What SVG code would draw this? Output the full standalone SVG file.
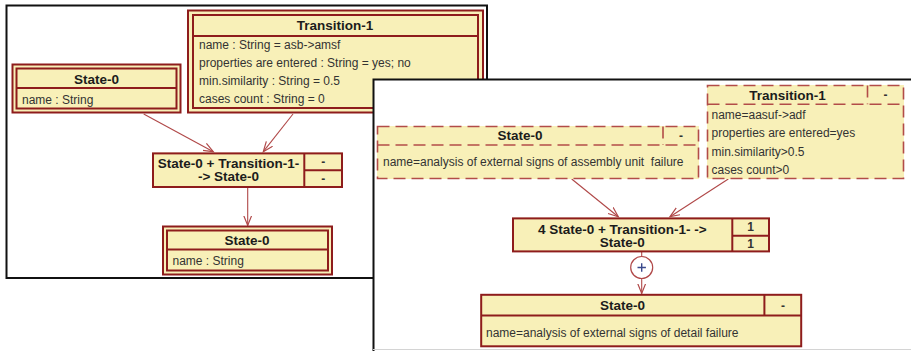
<svg xmlns="http://www.w3.org/2000/svg" width="911" height="351" viewBox="0 0 911 351">
  <style>
    .frame { fill: #ffffff; stroke: #111111; stroke-width: 2; }
    .box { fill: #f8f0b8; }
    .solid { fill: none; stroke: #8e1c1c; stroke-width: 2; }
    .dashed { fill: none; stroke: #b24c48; stroke-width: 1.6; stroke-dasharray: 12 6; }
    .title { font-family: "Liberation Sans", Arial, sans-serif; font-size: 13.5px; font-weight: bold; fill: #1c1c1c; text-anchor: middle; }
    .attr { font-family: "Liberation Sans", Arial, sans-serif; font-size: 12px; fill: #333333; }
    .mark { font-family: "Liberation Sans", Arial, sans-serif; font-size: 12px; font-weight: bold; fill: #333333; text-anchor: middle; }
    .link { fill: none; stroke: #b04848; stroke-width: 1.1; }
  </style>
  <defs>
    <marker id="open-arrow" markerUnits="userSpaceOnUse" markerWidth="12" markerHeight="10" refX="10" refY="4.5" orient="auto">
      <path d="M0,0.5 L10,4.5 L0,8.5" fill="none" stroke="#b04848" stroke-width="1.2"/>
    </marker>
  </defs>

  <!-- left sheet -->
  <rect class="frame" x="6.5" y="5.5" width="480.5" height="272.5"/>

  <g id="left-connectors">
    <line class="link" x1="143.7" y1="114" x2="213.3" y2="151.7" marker-end="url(#open-arrow)"/>
    <line class="link" x1="293" y1="114" x2="263.3" y2="151.7" marker-end="url(#open-arrow)"/>
    <line class="link" x1="247.7" y1="188" x2="247.7" y2="225.5" marker-end="url(#open-arrow)"/>
  </g>

  <g id="left-state0-source">
    <rect class="box" x="12" y="64" width="169" height="49"/>
    <rect class="solid" x="12.5" y="64.5" width="168" height="48"/>
    <rect class="solid" x="16.5" y="68.5" width="160" height="40"/>
    <line class="solid" x1="16.5" y1="88" x2="176.5" y2="88"/>
    <text class="title" x="96.5" y="83.5">State-0</text>
    <text class="attr" x="22" y="103.5">name : String</text>
  </g>

  <g id="left-transition1">
    <rect class="box" x="187.5" y="10" width="296" height="103"/>
    <rect class="solid" x="188" y="10.5" width="295" height="102"/>
    <rect class="solid" x="193" y="15" width="285" height="93"/>
    <line class="solid" x1="193" y1="36" x2="478" y2="36"/>
    <text class="title" x="335" y="29.5">Transition-1</text>
    <text class="attr" x="199" y="49">name : String = asb-&gt;amsf</text>
    <text class="attr" x="199" y="67">properties are entered : String = yes; no</text>
    <text class="attr" x="199" y="85">min.similarity : String = 0.5</text>
    <text class="attr" x="199" y="103">cases count : String = 0</text>
  </g>

  <g id="left-rule">
    <rect class="box" x="152.3" y="152.7" width="190" height="34.6"/>
    <rect class="solid" x="153" y="153.4" width="189" height="33.6"/>
    <line class="solid" x1="304.3" y1="153.4" x2="304.3" y2="187"/>
    <line class="solid" x1="304.3" y1="170.2" x2="342" y2="170.2"/>
    <text class="title" x="228.5" y="167.5">State-0 + Transition-1-</text>
    <text class="title" x="228.5" y="181">-&gt; State-0</text>
    <text class="mark" x="323.3" y="166">-</text>
    <text class="mark" x="323.3" y="183">-</text>
  </g>

  <g id="left-state0-result">
    <rect class="box" x="162.3" y="226" width="170" height="49"/>
    <rect class="solid" x="163" y="226.5" width="169" height="48"/>
    <rect class="solid" x="167" y="230.5" width="161" height="40"/>
    <line class="solid" x1="167" y1="249.5" x2="328" y2="249.5"/>
    <text class="title" x="247" y="244.5">State-0</text>
    <text class="attr" x="172.5" y="264.5">name : String</text>
  </g>

  <!-- right sheet, lying over the left one -->
  <rect x="373" y="79" width="545" height="272" fill="#ffffff"/>
  <path d="M373.5,352 V79.5 H912" fill="none" stroke="#111111" stroke-width="2"/>
  <line x1="373" y1="349.5" x2="911" y2="349.5" stroke="#d4d4d4" stroke-width="1"/>

  <g id="right-connectors">
    <line class="link" x1="571.7" y1="179" x2="618.3" y2="216.7" marker-end="url(#open-arrow)"/>
    <line class="link" x1="728.3" y1="179" x2="670" y2="216.7" marker-end="url(#open-arrow)"/>
    <line class="link" x1="641.7" y1="252" x2="641.7" y2="256.5"/>
    <line class="link" x1="641.7" y1="278.5" x2="641.7" y2="293.5" marker-end="url(#open-arrow)"/>
    <circle cx="641.7" cy="267.5" r="11" fill="#ffffff" stroke="#b04848" stroke-width="1.2"/>
    <path d="M637.5,267.5 H645.9 M641.7,263.3 V271.7" stroke="#3a4a8c" stroke-width="1.4" fill="none"/>
  </g>

  <g id="right-state0-source">
    <rect class="box" x="377" y="126" width="322" height="53"/>
    <rect class="dashed" x="377.5" y="126.5" width="321" height="52"/>
    <line class="dashed" x1="377.5" y1="145" x2="698.5" y2="145"/>
    <line class="dashed" x1="663" y1="126.5" x2="663" y2="145"/>
    <text class="title" x="520" y="140">State-0</text>
    <text class="mark" x="681" y="139.5">-</text>
    <text class="attr" x="383" y="165.5">name=analysis of external signs of assembly unit &#160;failure</text>
  </g>

  <g id="right-transition1">
    <rect class="box" x="707" y="85" width="197" height="94"/>
    <rect class="dashed" x="707.5" y="85.5" width="196" height="93"/>
    <line class="dashed" x1="707.5" y1="104.3" x2="903.5" y2="104.3"/>
    <line class="dashed" x1="867.5" y1="85.5" x2="867.5" y2="104.3"/>
    <text class="title" x="787.5" y="100">Transition-1</text>
    <text class="mark" x="885.5" y="99">-</text>
    <text class="attr" x="711.5" y="118.5">name=aasuf-&gt;adf</text>
    <text class="attr" x="711.5" y="137">properties are entered=yes</text>
    <text class="attr" x="711.5" y="155.5">min.similarity&gt;0.5</text>
    <text class="attr" x="711.5" y="173.5">cases count&gt;0</text>
  </g>

  <g id="right-rule">
    <rect class="box" x="512.3" y="217.7" width="257" height="34"/>
    <rect class="solid" x="513" y="218.4" width="256" height="33"/>
    <line class="solid" x1="732.3" y1="218.4" x2="732.3" y2="251.4"/>
    <line class="solid" x1="732.3" y1="235.7" x2="769" y2="235.7"/>
    <text class="title" x="622.3" y="233.5">4 State-0 + Transition-1- -&gt;</text>
    <text class="title" x="622.3" y="247">State-0</text>
    <text class="mark" x="750.7" y="231">1</text>
    <text class="mark" x="750.7" y="248">1</text>
  </g>

  <g id="right-state0-result">
    <rect class="box" x="480.4" y="294" width="321.6" height="53"/>
    <rect class="solid" x="481.2" y="294.8" width="320" height="51.5"/>
    <line class="solid" x1="481.2" y1="315.6" x2="801.2" y2="315.6"/>
    <line class="solid" x1="764.4" y1="294.8" x2="764.4" y2="315.6"/>
    <text class="title" x="622.5" y="310">State-0</text>
    <text class="mark" x="783" y="309.5">-</text>
    <text class="attr" x="486" y="337">name=analysis of external signs of detail failure</text>
  </g>
</svg>
